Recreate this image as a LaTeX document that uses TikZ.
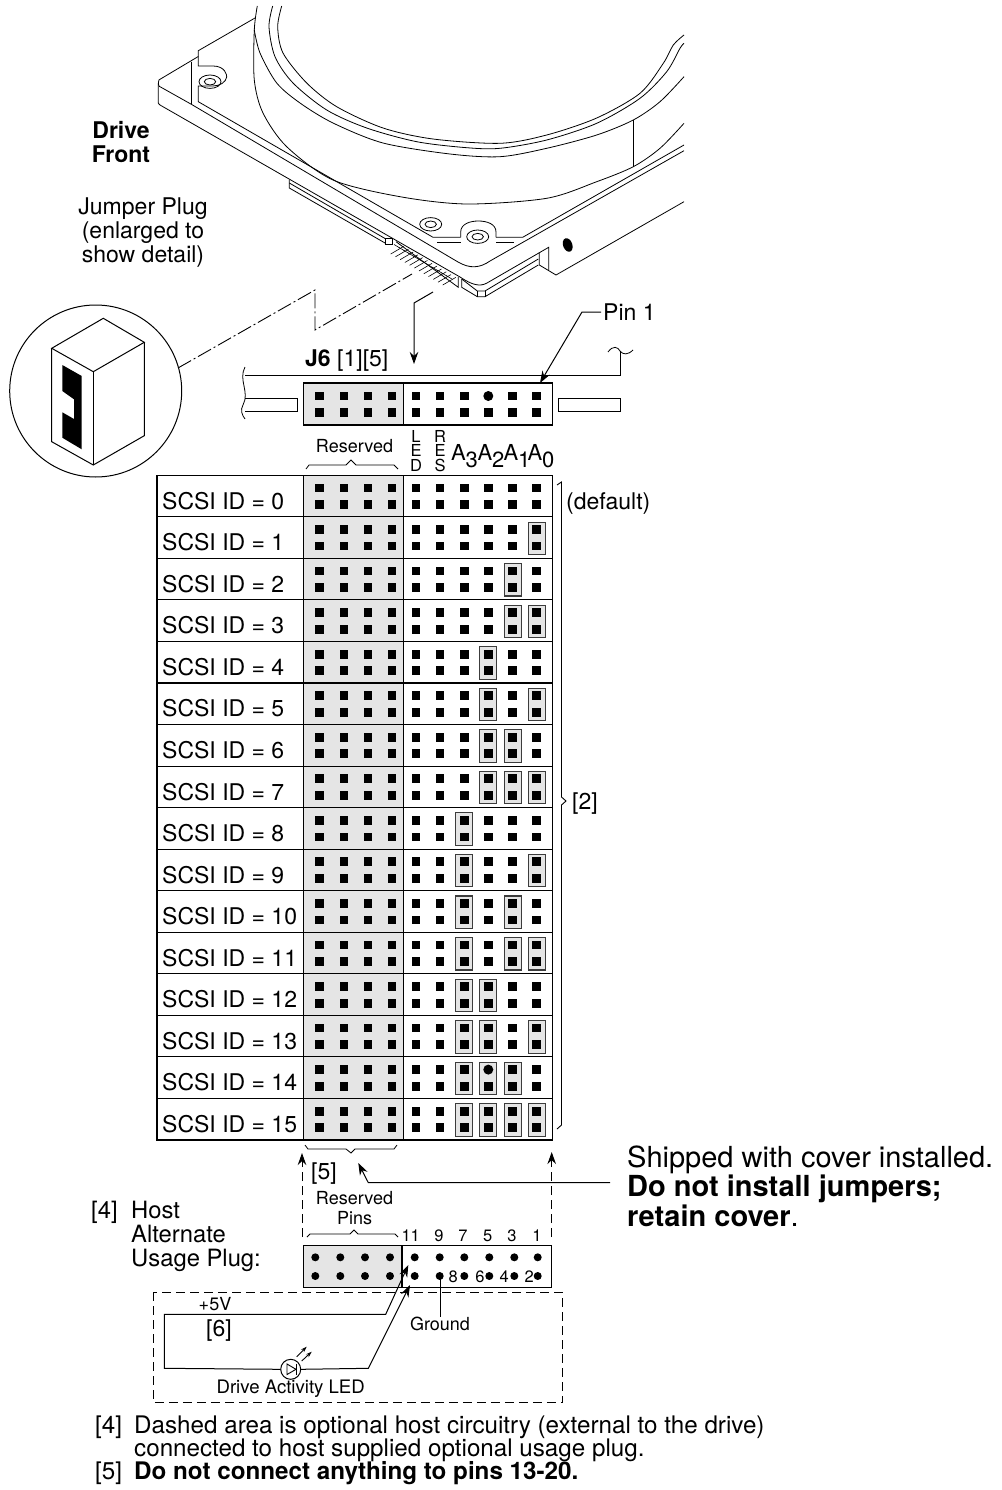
\documentclass[tikz,border=0pt]{standalone}
\usepackage{fontspec}
\setmainfont{TeX Gyre Heros}
\usepackage{xcolor}
\usetikzlibrary{arrows.meta}
\definecolor{ReservedGray}{RGB}{229,229,229}
\definecolor{JumperEdge}{RGB}{60,60,60}
\tikzset{
	txt/.style={inner sep=0pt, font=\fontsize{23}{24}\selectfont},
	small/.style={inner sep=0pt, font=\fontsize{18}{20}\selectfont},
	tiny/.style={inner sep=0pt, font=\fontsize{16.5}{18}\selectfont},
	big/.style={inner sep=0pt, font=\fontsize{29}{29.6}\selectfont, align=left},
	foot/.style={inner sep=0pt, anchor=base west, font=\fontsize{24.2}{25}\selectfont},
	leader/.style={line width=1pt, -{Stealth[length=12pt,width=8.5pt]}},
	centerline/.style={line width=0.9pt, dash pattern=on 15pt off 3pt on 2pt off 3pt},
	jumper/.style={fill=ReservedGray, draw=JumperEdge, line width=1.1pt},
	drive/.style={line width=0.8pt},
}
\def\pinsall{319.7,344,368,392,416,440,464.3,488.3,512.7,536.7}
\def\pinsnofive{319.7,344,368,392,416,440,464.3,512.7,536.7}
\newcommand{\pinrow}[2]{\foreach \x in #2 {\fill (\x-4.4,#1-4.4) rectangle ++(8.8,8.8);}}
\begin{document}
\begin{tikzpicture}[x=1pt,y=-1pt]
	\useasboundingbox (0,0) rectangle (1001,1490);

	% drive
	\begin{scope}[drive]
	\draw plot[smooth] coordinates {(257.3,6)(254.3,30)(254.3,80)(263,113)(286.7,146.7)(333,180)(400,196.7)(466.7,204)(546.7,198.3)(596.7,181.7)(633.3,166.7)(660,148.3)(684,123.3)};
	\draw plot[smooth] coordinates {(254.3,30)(260,53)(276.7,83)(300,103)(333,123)(383,143)(450,154)(500,156.7)(546.7,148.3)(596.7,135)(633.3,120)(660,101.7)(684,76.7)};
	\draw plot[smooth] coordinates {(272.7,6)(269,26.7)(275,56.7)(293,83)(326.7,110)(366.7,128)(416.7,141.7)(466.7,147.7)(500,148.3)(546.7,140)(596.7,123.3)(640,98.3)(666.7,71.7)(680,48.3)(684,43.3)};
	\draw plot[smooth] coordinates {(281.7,6)(277.7,26.7)(283,53)(306.7,83)(336.7,106.7)(383,128)(433,139)(500,143.3)(546.7,135)(596.7,118)(640,93.3)(663.3,63.3)(673.3,45)(684,35)};
	\draw (633.3,120) -- (633.3,167);
	\draw (255,18) -- (198.3,50.7) -- (198.3,66) -- (213,66) .. controls (225,66) and (227,75) .. (226.7,77) .. controls (226,82) and (220,86) .. (213,86) -- (198.3,86) -- (198.3,101.7) -- (433,237.3) -- (460.7,237.3);
	\draw (198.3,56.5) -- (160,79.3) to[out=150,in=-90] (158.3,84) -- (158.3,103) to[out=90,in=210] (160,105) -- (460,277) .. controls (472,285) and (480,287) .. (487,283) -- (548.7,247.3) -- (548.7,270);
	\draw (158.3,84) to[out=90,in=210] (160,86.7) -- (191.7,104.5) -- (458,262) .. controls (470,269) and (480,268) .. (490,261) -- (684,150.7);
	\draw (191.7,61.7) -- (191.7,104.5);
	\draw (496,237.3) -- (522.7,237.3) -- (684,145);
	\draw (437,242.7) -- (460.7,242.7);
	\draw (496,242.7) -- (514,242.7);
	\draw (460.7,237.3) -- (460.7,232) .. controls (460.7,224) and (470,221) .. (478.3,221) .. controls (487,221) and (496,224) .. (496,232) -- (496,237.3);
	\foreach \cx/\cy in {210/81.7, 430.7/224.3, 477.7/236.7} {
		\draw (\cx,\cy) ellipse (11pt and 6.7pt);
		\draw (\cx,\cy) ellipse (5.7pt and 3.3pt);
	}
	\draw (539.3,252.7) -- (539.3,265) -- (556,275) -- (684,201.7);
	\fill (567.7,245) ellipse[x radius=4.6pt, y radius=7pt, rotate=20];
	% board under the drive
	\draw (289.3,180) -- (289.3,188) -- (385,243);
	\draw (289.3,183) -- (385,238.5);
	\draw (385,238.5) rectangle (392.7,244.3);
	\draw (396,241.7) -- (458.3,287.3) -- (458.3,277);
	\draw (461.7,279) -- (461.7,287.3) -- (477.3,296.7) -- (485,296.7) -- (538.3,265);
	\draw (461.7,279) -- (477.3,291) -- (485,291) -- (538.3,259);
	\draw (477.3,291) -- (477.3,296.7);
	\draw (485,291) -- (485,296.7);
	\foreach \i in {0,...,11} {
		\draw[line width=0.6pt] (390.7+\i*4.73, 254+\i*2.82) -- ++(13,-7.6);
		\draw[line width=0.6pt] (394+\i*4.73, 244.5+\i*2.82) -- ++(6,3.6);
	}
	\end{scope}

	% jumper plug detail
	\draw[line width=1pt] (95.7,391) circle (86pt);
	\draw[line width=1pt] (51.7,348.3) -- (103.3,318.3) -- (144.3,342.3) -- (93.3,371.7) -- cycle;
	\draw[line width=1pt] (51.7,348.3) -- (51.7,441.7) -- (93.3,465) -- (144.3,435.7) -- (144.3,342.3);
	\draw[line width=1pt] (93.3,371.7) -- (93.3,465);
	\fill (62.3,365) -- (81.7,376) -- (81.7,449.3) -- (62.3,437.7) -- (62.3,412.3) -- (74,419) -- (74,399.3) -- (62.3,391) -- cycle;
	\draw[centerline] (178,368) -- (315,290) -- (315,330) -- (412,274);

	\node[txt, font=\fontsize{23}{24}\bfseries, align=center] (driveFront) at (121,142) {Drive\\Front};
	\node[txt, align=center] (plugNote) at (143,232.5) {Jumper Plug\\(enlarged to\\show detail)};

	% connector J6
	\coordinate (probeTop) at (433,292);
	\coordinate (pinOneEnd) at (540,383);
	\draw[leader] (probeTop) -- (414,303) -- (414,364);
	\node[txt, anchor=base west] (pinOne) at (603,320) {Pin 1};
	\draw[leader] (601,312) -- (582,312) -- (pinOneEnd);
	\node[txt, anchor=base west] (jSix) at (305,366) {\textbf{J6} [1][5]};
	\draw[line width=1pt] (245,375) -- (620,375) -- (620,351);
	\draw[line width=0.8pt] (608,352) .. controls (613,345) and (618,347) .. (620,351) .. controls (623,355) and (628,355) .. (633,350);
	\draw[line width=0.8pt] (245,367) .. controls (238,380) and (250,392) .. (243,405) .. controls (240,410) and (242,415) .. (245,419);
	\draw[line width=1pt] (245,398) -- (297,398) -- (297,411) -- (245,411);
	\draw[line width=1pt] (558,398) rectangle (620,411);
	\fill[ReservedGray] (303.3,383) rectangle (403.3,425);
	\draw[line width=1.1pt] (303.3,383) rectangle (552.5,425);
	\draw[line width=1.1pt] (403.3,383) -- (403.3,425);
	\pinrow{396}{\pinsnofive}
	\fill (488.3,396) circle (5pt);
	\pinrow{412.7}{\pinsall}

	% column heads
	\node[small] (headReserved) at (354.5,446) {Reserved};
	\draw[line width=0.8pt] (306,469) -- (309,465) -- (346,465) -- (351,460) -- (356,465) -- (394,465) -- (398,469);
	\foreach \ch/\cy in {L/436, E/450.5, D/465} \node[tiny] (led\ch) at (416,\cy) {\ch};
	\foreach \ch/\cy in {R/436, E/450.5, S/465} \node[tiny] (res\ch) at (440,\cy) {\ch};
	\foreach \sub/\cx in {3/464.5, 2/491, 1/517, 0/541}
		\node[inner sep=0pt, font=\fontsize{22}{24}\selectfont] (addr\sub) at (\cx,456) {A\raisebox{-7pt}{\sub}};

	% SCSI ID rows
	\foreach \id in {0,...,15} {
		\pgfmathsetmacro{\rowtop}{475.2+41.55*\id}
		\fill[ReservedGray] (303.3,\rowtop) rectangle ++(100,41.55);
		\draw[line width=1.1pt] (157,\rowtop) rectangle (552.5,\rowtop+41.55);
		\draw[line width=1.1pt] (303.3,\rowtop) -- ++(0,41.55);
		\draw[line width=1.1pt] (403.3,\rowtop) -- ++(0,41.55);
		\node[txt, anchor=base west] (scsi\id) at (162,\rowtop+34) {SCSI ID = \id};
		\foreach \bit/\px in {0/536.7,1/512.7,2/488.3,3/464.3} {
			\pgfmathtruncatemacro{\isset}{mod(floor(\id/2^\bit),2)}
			\ifnum\isset=1
				\draw[jumper] (\px-8.5,\rowtop+5.3) rectangle (\px+8.5,\rowtop+37.7);
			\fi
		}
		\ifnum\id=14
			\pinrow{\rowtop+12.7}{\pinsnofive}
			\fill (488.3,\rowtop+12.7) circle (5pt);
		\else
			\pinrow{\rowtop+12.7}{\pinsall}
		\fi
		\pinrow{\rowtop+29.3}{\pinsall}
	}
	\node[txt, anchor=base west] (defaultNote) at (566,509) {(default)};
	\draw[line width=0.9pt] (557,485) -- (561.5,482) -- (561.5,797) -- (566,801) -- (561.5,805) -- (561.5,1125) -- (557,1129);
	\node[txt, anchor=base west] (noteTwo) at (572,809) {[2]};

	% below the table
	\draw[line width=0.8pt] (305,1145) -- (308,1149) -- (346,1149) -- (351,1153) -- (355,1149) -- (394,1149) -- (397,1145);
	\coordinate (coverEnd) at (358.3,1163);
	\draw[leader] (610,1182.7) -- (368.3,1182.7) -- (coverEnd);
	\node[big, anchor=north west] (coverNote) at (627,1145.5) {Shipped with cover installed.\\\textbf{Do not install jumpers;}\\\textbf{retain cover}.};
	\node[txt, anchor=base west] (noteFive) at (311,1179) {[5]};
	\node[small, align=center] (headPins) at (354.5,1208) {Reserved\\Pins};
	\draw[line width=0.8pt] (307,1237) -- (310,1234) -- (350,1234) -- (354,1230) -- (358,1234) -- (395,1234) -- (398,1237);
	\draw[leader, dash pattern=on 9pt off 5pt] (302,1237) -- (302,1153);
	\draw[leader, dash pattern=on 9pt off 5pt] (551.7,1237) -- (551.7,1152);

	% host plug
	\node[txt, font=\fontsize{23.8}{24}\selectfont, anchor=base west] (hostOne) at (91,1218) {[4]};
	\node[txt, font=\fontsize{23.8}{24}\selectfont, anchor=base west] (hostHead) at (131,1218) {Host};
	\node[txt, font=\fontsize{23.8}{24}\selectfont, anchor=base west] (hostTwo) at (131,1242) {Alternate};
	\node[txt, font=\fontsize{23.8}{24}\selectfont, anchor=base west] (hostThree) at (131,1266) {Usage Plug:};
	\fill[ReservedGray] (303.3,1245.7) rectangle (402,1287.3);
	\draw[line width=1.1pt] (303.3,1245.7) rectangle (551.7,1287.3);
	\draw[line width=1.1pt] (402,1245.7) -- (402,1287.3);
	\foreach \x in {315.3,340.3,365,390,414.7,439.7,464.3,489.3,514.3,537.7} {
		\fill (\x,1257.3) circle (4pt);
		\fill (\x,1276) circle (4pt);
	}
	\foreach \num/\cx in {11/410.7, 9/439, 7/463, 5/487.7, 3/512, 1/537}
		\node[tiny] (top\num) at (\cx,1236) {\num};
	\foreach \num/\cx in {8/453.3, 6/480, 4/504.3, 2/529.3}
		\node[tiny] (bot\num) at (\cx,1277) {\num};

	% host circuitry
	\draw[line width=1pt, dash pattern=on 9pt off 5pt] (153.3,1292.3) rectangle (562.7,1402.7);
	\coordinate (fiveEnd) at (408.3,1265);
	\coordinate (ledEnd) at (410,1285);
	\node[draw, circle, line width=1pt, minimum size=20pt, inner sep=0pt] (led) at (290.7,1369.3) {};
	\draw[line width=0.9pt] (287,1364) -- (287,1374.5) -- (296,1369.3) -- cycle;
	\draw[line width=0.9pt] (296,1363.5) -- (296,1375);
	\draw[leader] (led.west) -- (164.3,1368.3) -- (164.3,1314.3) -- (385.7,1314.3) -- (fiveEnd);
	\draw[leader] (led.east) -- (368.3,1368.3) -- (ledEnd);
	\draw[line width=0.9pt, -{Stealth[length=6pt,width=4pt]}] (296.7,1356.7) -- (306.7,1346.7);
	\draw[line width=0.9pt, -{Stealth[length=6pt,width=4pt]}] (301.7,1361) -- (311.7,1351.7);
	\node[small] (groundNote) at (440,1324) {Ground};
	\draw[line width=1pt] (groundNote.north) -- (440,1276.7);
	\node[small] (fiveVolt) at (215,1304) {+5V};
	\node[txt] (noteSix) at (219,1331) {[6]};
	\node[small, font=\fontsize{18.6}{20}\selectfont] (ledNote) at (290.7,1389) {Drive Activity LED};

	% footnotes
	\node[foot] (footMark) at (95,1433) {[4]};
	\node[foot] (footOne) at (134,1433) {Dashed area is optional host circuitry (external to the drive)};
	\node[foot] (footTwo) at (134,1456) {connected to host supplied optional usage plug.};
	\node[foot] (footFive) at (95,1479) {[5]};
	\node[foot] (footThree) at (134,1479) {\textbf{Do not connect anything to pins 13-20.}};
\end{tikzpicture}
\end{document}
